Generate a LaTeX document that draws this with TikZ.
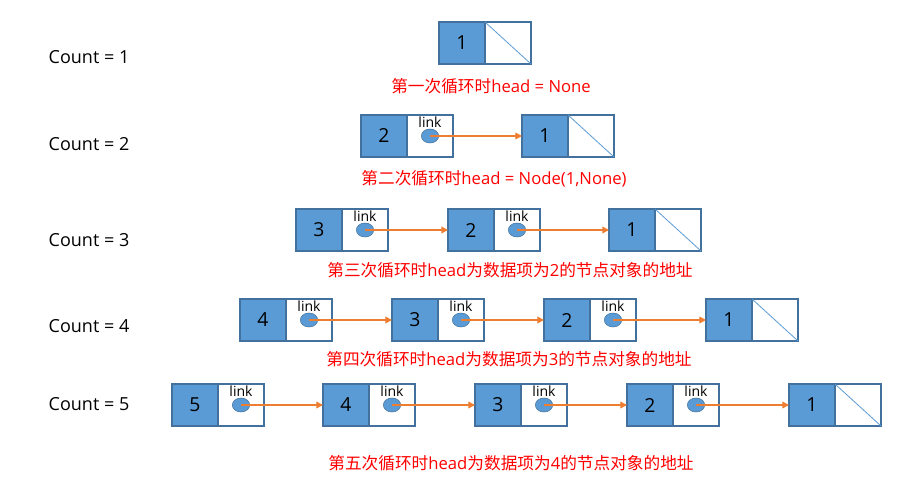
\documentclass[tikz,border=0pt]{standalone}
\usepackage{fontspec}
\setmainfont{Open Sans}
\newfontfamily\cjk{Noto Sans CJK SC}
\usetikzlibrary{shapes.geometric, arrows.meta, positioning}

\definecolor{boxblue}{HTML}{5B9BD5}
\definecolor{boxline}{HTML}{41719C}
\definecolor{ptrorange}{HTML}{ED7D31}

\begin{document}
\begin{tikzpicture}[
    x=0.75pt, y=-0.75pt,
    datacell/.style={rectangle, draw=boxline, fill=boxblue, line width=0.8pt, minimum width=34.5pt, minimum height=31.5pt, inner sep=0pt, outer sep=0pt, font=\fontsize{14.5}{14.5}\selectfont},
    linkcell/.style={rectangle, draw=boxline, fill=white, line width=0.8pt, minimum width=34.5pt, minimum height=31.5pt, inner sep=0pt, outer sep=0pt},
    dot/.style={ellipse, draw=boxline, fill=boxblue, minimum width=13pt, minimum height=10.5pt, inner sep=0pt},
    linktext/.style={font=\fontsize{10.5}{10.5}\selectfont, inner sep=0pt},
    arrow/.style={-{Triangle[length=5pt,width=5pt]}, draw=ptrorange, line width=1.2pt},
    countlabel/.style={anchor=west, font=\fontsize{13.5}{13.5}\selectfont},
    caption/.style={text=red, font=\fontsize{12.5}{12.5}\selectfont}
  ]
  \useasboundingbox (0,0) rectangle (913,488);

  % Zeilen: Zaehler, Hoehe, Hoehe des Zaehlers, Knoten (Wert/linke Kante)
  \foreach \r/\yy/\cy/\cells in {1/43/57/{1/439}, 2/136/144/{2/361,1/522}, 3/230/240/{3/296,2/448,1/609},
      4/320/326/{4/240,3/392,2/544,1/706}, 5/405/404/{5/172,4/323,3/475,2/627,1/789}} {
    \node[countlabel] (count\r) at (44,\cy) {Count = \r};
    \foreach \v/\x in \cells {
      \node[datacell, anchor=west] (d\r\v) at (\x,\yy) {\raisebox{-2pt}{\v}};
      \node[linkcell, right=0pt of d\r\v] (l\r\v) {};
      \ifnum\v=1
        \draw[boxblue, line width=0.6pt] (l\r\v.north west) -- (l\r\v.south east);
      \else
        \node[dot] (p\r\v) at (l\r\v.center) {};
        \node[linktext, above=1pt of p\r\v] (t\r\v) {link};
      \fi
    }
  }

  % Zeiger
  \foreach \r in {2,...,5} {
    \foreach \v [evaluate=\v as \w using int(\v-1)] in {2,...,\r} {
      \draw[arrow] (p\r\v.center) -- (d\r\w.west);
    }
  }

  % Beschriftungen
  \node[caption] (c1) at (491,86) {{\cjk 第一次循环时}head = None};
  \node[caption] (c2) at (494,179) {{\cjk 第二次循环时}head = Node(1,None)};
  \node[caption] (c3) at (510,270) {{\cjk 第三次循环时}head{\cjk 为数据项为}2{\cjk 的节点对象的地址}};
  \node[caption] (c4) at (509,359) {{\cjk 第四次循环时}head{\cjk 为数据项为}3{\cjk 的节点对象的地址}};
  \node[caption] (c5) at (511,463) {{\cjk 第五次循环时}head{\cjk 为数据项为}4{\cjk 的节点对象的地址}};
\end{tikzpicture}
\end{document}
